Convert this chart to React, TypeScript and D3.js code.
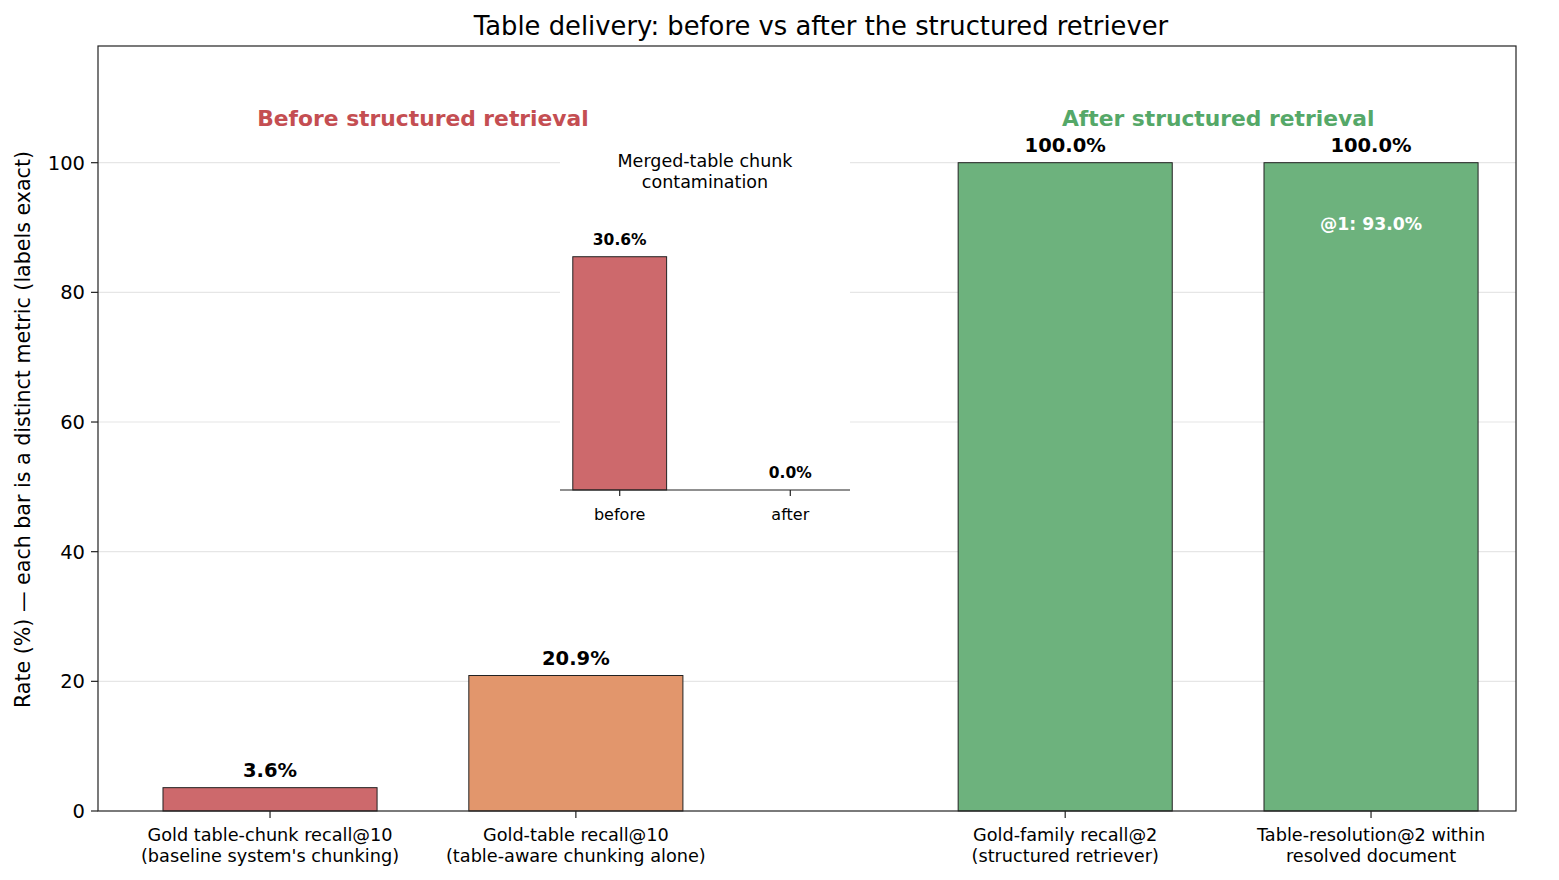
import * as d3 from 'd3';

// Main panel: one bar per metric, split into "before" and "after" groups
const CATEGORIES = [
  ['Gold table-chunk recall@10', "(baseline system's chunking)"],
  ['Gold-table recall@10', '(table-aware chunking alone)'],
  ['Gold-family recall@2', '(structured retriever)'],
  ['Table-resolution@2 within', 'resolved document'],
];
const VALUES = [3.6, 20.9, 100.0, 100.0];
const GROUPS = ['before', 'before', 'after', 'after'];
const BAR_COLORS = ['#cd696c', '#e2966c', '#6db27d', '#6db27d'];
const AT1_VALUE = 93.0; // shown inside the last bar
const Y_TICKS = [0, 20, 40, 60, 80, 100];

// Inset: merged-table chunk contamination
const INSET_LABELS = ['before', 'after'];
const INSET_VALUES = [30.6, 0.0];
const INSET_COLORS = ['#cd696c', '#6db27d'];

const W = 1559;
const H = 880;
const FONT = "'DejaVu Sans', sans-serif";
const RED = '#c44e52';
const GREEN = '#55a868';

export default function App() {
  const plot = { left: 98, right: 1516, top: 46, bottom: 811 };
  // "after" group is pushed right to leave a gap between the two groups
  const slot = (i: number) => i + (GROUPS[i] === 'after' ? 0.6 : 0);
  const x = d3.scaleLinear().domain([-0.5625, 4.074]).range([plot.left, plot.right]);
  const y = d3.scaleLinear().domain([0, 118]).range([plot.bottom, plot.top]);
  const bw = x(0.7) - x(0);

  const inset = { left: 560, right: 850, top: 150, bottom: 490 };
  const ix = d3.scaleLinear().domain([-0.35, 1.35]).range([inset.left, inset.right]);
  const iy = d3.scaleLinear().domain([0, 44.6]).range([inset.bottom, inset.top]);
  const ibw = ix(0.55) - ix(0);

  const beforeCenter = (x(slot(0)) + x(slot(1))) / 2;
  const afterCenter = (x(slot(2)) + x(slot(3))) / 2;

  return (
    <>
      <style>{'body{margin:0}'}</style>
      <svg width={W} height={H} style={{ display: 'block', background: '#fff' }} fontFamily={FONT}>
        <text x={821} y={35} textAnchor="middle" fontSize={25.8} fill="#000">
          Table delivery: before vs after the structured retriever
        </text>

        {/* grid */}
        {Y_TICKS.filter((t) => t > 0).map((t) => (
          <line key={t} x1={plot.left} x2={plot.right} y1={y(t)} y2={y(t)} stroke="#e6e6e6" strokeWidth={1.2} />
        ))}

        {/* bars */}
        {VALUES.map((v, i) => (
          <rect
            key={i}
            x={x(slot(i)) - bw / 2}
            y={y(v)}
            width={bw}
            height={y(0) - y(v)}
            fill={BAR_COLORS[i]}
            stroke="#222"
            strokeWidth={1}
          />
        ))}
        {VALUES.map((v, i) => (
          <text key={i} x={x(slot(i))} y={y(v) - 11} textAnchor="middle" fontSize={19.5} fontWeight="bold" fill="#000">
            {v.toFixed(1)}%
          </text>
        ))}
        <text x={x(slot(3))} y={y(AT1_VALUE) + 22} textAnchor="middle" fontSize={17.3} fontWeight="bold" fill="#fff">
          @1: {AT1_VALUE.toFixed(1)}%
        </text>

        {/* group headings */}
        <text x={beforeCenter} y={y(105.7)} textAnchor="middle" fontSize={21.8} fontWeight="bold" fill={RED}>
          Before structured retrieval
        </text>
        <text x={afterCenter} y={y(105.7)} textAnchor="middle" fontSize={21.8} fontWeight="bold" fill={GREEN}>
          After structured retrieval
        </text>

        {/* inset panel */}
        <rect x={inset.left} y={inset.top} width={inset.right - inset.left} height={inset.bottom - inset.top} fill="#fff" />
        <text x={(inset.left + inset.right) / 2} y={167} textAnchor="middle" fontSize={17.5} fill="#000">
          Merged-table chunk
        </text>
        <text x={(inset.left + inset.right) / 2} y={188} textAnchor="middle" fontSize={17.5} fill="#000">
          contamination
        </text>
        {INSET_VALUES.map((v, i) => (
          <g key={i}>
            {v > 0 && (
              <rect
                x={ix(i) - ibw / 2}
                y={iy(v)}
                width={ibw}
                height={iy(0) - iy(v)}
                fill={INSET_COLORS[i]}
                stroke="#222"
                strokeWidth={1}
              />
            )}
            <text x={ix(i)} y={iy(v) - 12} textAnchor="middle" fontSize={15.5} fontWeight="bold" fill="#000">
              {v.toFixed(1)}%
            </text>
            <line x1={ix(i)} x2={ix(i)} y1={inset.bottom} y2={inset.bottom + 6} stroke="#222" strokeWidth={1.2} />
            <text x={ix(i)} y={inset.bottom + 30} textAnchor="middle" fontSize={16} fill="#000">
              {INSET_LABELS[i]}
            </text>
          </g>
        ))}
        <line x1={inset.left} x2={inset.right} y1={inset.bottom} y2={inset.bottom} stroke="#222" strokeWidth={1.2} />

        {/* frame */}
        <rect
          x={plot.left}
          y={plot.top}
          width={plot.right - plot.left}
          height={plot.bottom - plot.top}
          fill="none"
          stroke="#222"
          strokeWidth={1.2}
        />

        {/* y axis */}
        {Y_TICKS.map((t) => (
          <g key={t}>
            <line x1={plot.left - 7} x2={plot.left} y1={y(t)} y2={y(t)} stroke="#222" strokeWidth={1.2} />
            <text x={plot.left - 13} y={y(t)} dy="0.36em" textAnchor="end" fontSize={19.5} fill="#000">
              {t}
            </text>
          </g>
        ))}
        <text
          transform={`translate(30,${(plot.top + plot.bottom) / 2 + 1}) rotate(-90)`}
          textAnchor="middle"
          fontSize={20.6}
          fill="#000"
        >
          Rate (%) — each bar is a distinct metric (labels exact)
        </text>

        {/* x axis */}
        {CATEGORIES.map((lines, i) => (
          <g key={i}>
            <line x1={x(slot(i))} x2={x(slot(i))} y1={plot.bottom} y2={plot.bottom + 7} stroke="#222" strokeWidth={1.2} />
            {lines.map((s, j) => (
              <text key={j} x={x(slot(i))} y={841 + j * 21} textAnchor="middle" fontSize={17.7} fill="#000">
                {s}
              </text>
            ))}
          </g>
        ))}
      </svg>
    </>
  );
}
